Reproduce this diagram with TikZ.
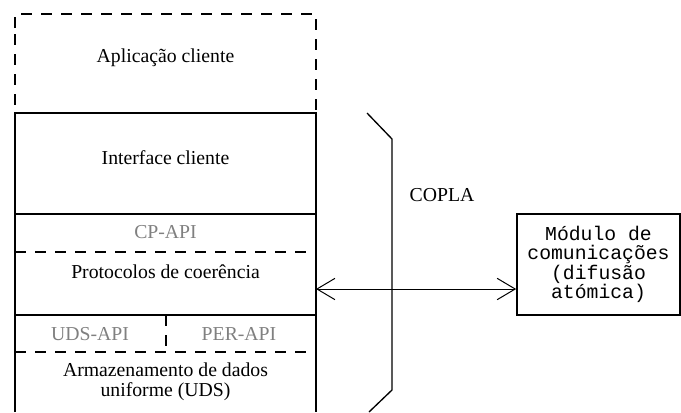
\documentclass[tikz,border=0pt]{standalone}
\usepackage{fontspec}
\setmainfont{Liberation Serif}
\setmonofont{Liberation Mono}
\usetikzlibrary{positioning}
\usetikzlibrary{arrows.meta}
\definecolor{apigray}{RGB}{128,128,128}
\tikzstyle{layer_line}=[line width=1.5pt]
\tikzstyle{layer_dash}=[line width=1.5pt, dash pattern=on 7.9pt off 7.1pt]
\tikzstyle{layer_text}=[inner sep=0pt, align=center, font=\fontsize{14.8}{15}\selectfont]
\tikzstyle{api_text}=[layer_text, text=apigray]
\tikzstyle{mod_box}=[draw, line width=1.5pt, inner sep=0pt, align=center,
    minimum width=122pt, minimum height=75.75pt,
    font=\fontsize{14.8}{14.6}\selectfont\ttfamily]
\tikzstyle{link}=[line width=0.75pt, {Straight Barb[length=13.5pt, width=16pt]}-{Straight Barb[length=13.5pt, width=16pt]}]

\begin{document}
\begin{tikzpicture}[x=0.75pt, y=-0.75pt]
\useasboundingbox (0,0) rectangle (681,412);
% client application (dashed)
\draw[layer_dash] (15,28) -- (15,14) -- (316,14) -- (316,113);
\draw[layer_dash] (15,34) -- (15,113);
% layer stack
\draw[layer_line] (15,412) -- (15,113) -- (316,113) -- (316,412);
\draw[layer_line] (15,214) -- (316,214);
\draw[layer_line] (15,315) -- (316,315);
\draw[layer_dash] (15,252) -- (316,252);
\draw[layer_dash] (15,352) -- (316,352);
\draw[layer_dash] (166,315) -- (166,352);
\node[layer_text] (app) at (165.5,58) {Aplicação cliente};
\node[layer_text] (iface) at (165.5,158) {Interface cliente};
\node[api_text] (cpapi) at (165.5,232) {CP-API};
\node[layer_text] (proto) at (165.5,272) {Protocolos de coerência};
\node[api_text] (udsapi) at (90,334) {UDS-API};
\node[api_text] (perapi) at (239,334) {PER-API};
\node[layer_text] (uds) at (165.5,382) {Armazenamento de dados\\uniforme (UDS)};
% COPLA bracket
\draw[line width=1pt] (367,113) -- (392,139) -- (392,390) -- (369,412);
\node[layer_text] (copla) at (442,195) {COPLA};
% communication module
\node[mod_box] (modulo) at (598.5,264.5) {Módulo de\\comunicações\\(difusão\\atómica)};
\coordinate (protoport) at (316,289);
\draw[link] (protoport) -- (modulo.west |- protoport);
\end{tikzpicture}
\end{document}
